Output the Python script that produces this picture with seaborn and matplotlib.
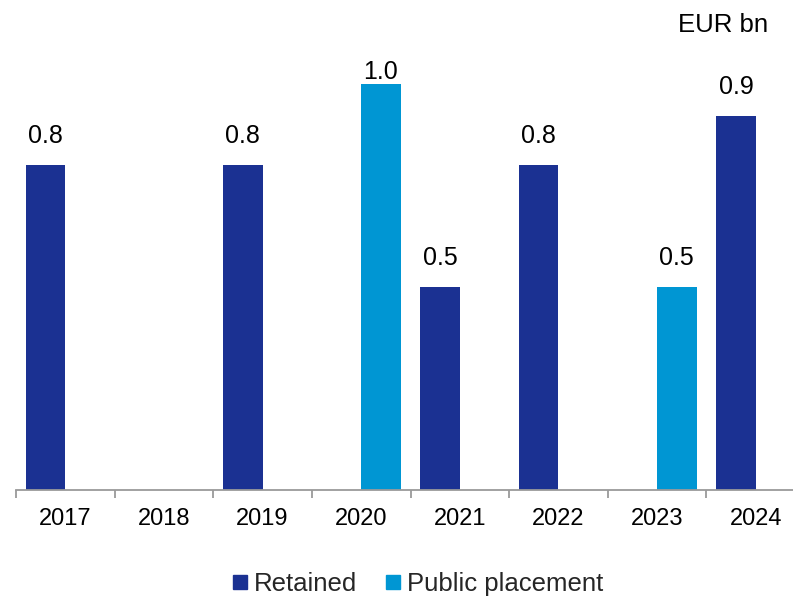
import numpy as np
import pandas as pd
import seaborn as sns
import matplotlib
matplotlib.use("Agg")
import matplotlib.pyplot as plt
from matplotlib.lines import Line2D

years = ["2017", "2018", "2019", "2020", "2021", "2022", "2023", "2024"]
retained = [0.8, np.nan, 0.8, np.nan, 0.5, 0.8, np.nan, 0.92]
public = [np.nan, np.nan, np.nan, 1.0, np.nan, np.nan, 0.5, np.nan]
series = ["Retained", "Public placement"]
colors = ["#1B3192", "#0096D3"]
unit_label = "EUR bn"

sns.set_theme(style="white")
plt.rcParams["font.family"] = ["Liberation Sans", "DejaVu Sans"]

df = pd.DataFrame({
    "year": years * 2,
    "series": [series[0]] * len(years) + [series[1]] * len(years),
    "value": retained + public,
}).dropna()

W, H = 793, 596
fig = plt.figure(figsize=(W / 100, H / 100), dpi=100)
ax_left, ax_right, ax_bottom, ax_top = 16, 805, 490, 0
ax = fig.add_axes([ax_left / W, (H - ax_bottom) / H, (ax_right - ax_left) / W, (ax_bottom - ax_top) / H])

sns.barplot(data=df, x="year", y="value", hue="series", order=years,
            hue_order=series, palette=colors, width=0.8, dodge=True,
            saturation=1, ax=ax, legend=False, linewidth=0)

ax.set_xlim(-0.5, len(years) - 0.5)
ax.set_ylim(0, 490 / 406)
ax.set_xlabel("")
ax.set_ylabel("")
ax.set_yticks([])
for s in ["top", "right", "left"]:
    ax.spines[s].set_visible(False)
ax.spines["bottom"].set_color("#9a9a9a")
ax.spines["bottom"].set_linewidth(1.3)

ax.tick_params(axis="x", which="major", bottom=True, length=0, pad=13, labelsize=17, labelcolor="black")
ax.set_xticks(np.arange(-0.5, len(years) - 0.4, 1.0), minor=True)
ax.tick_params(axis="x", which="minor", bottom=True, length=6, width=1.3, color="#9a9a9a", direction="out")

for p in ax.patches:
    h = p.get_height()
    if h is None or np.isnan(h) or h <= 0:
        continue
    x = p.get_x() + p.get_width() / 2
    y = min(h + 0.042, 1.0)
    ax.text(x, y, f"{h:.1f}", ha="center", va="bottom", fontsize=18, color="black")

fig.text(723 / W, 1 - 25 / H, unit_label, ha="center", va="center", fontsize=18.5, color="black")

handles = [Line2D([0], [0], marker="s", linestyle="none", markersize=10,
                  markerfacecolor=c, markeredgecolor=c) for c in colors]
fig.legend(handles, series, loc="center", bbox_to_anchor=(418 / W, 1 - 584 / H),
           ncol=2, frameon=False, fontsize=18.5, handlelength=0.6,
           handletextpad=0.25, columnspacing=1.1, borderpad=0)

fig.savefig("out.png", dpi=100)
